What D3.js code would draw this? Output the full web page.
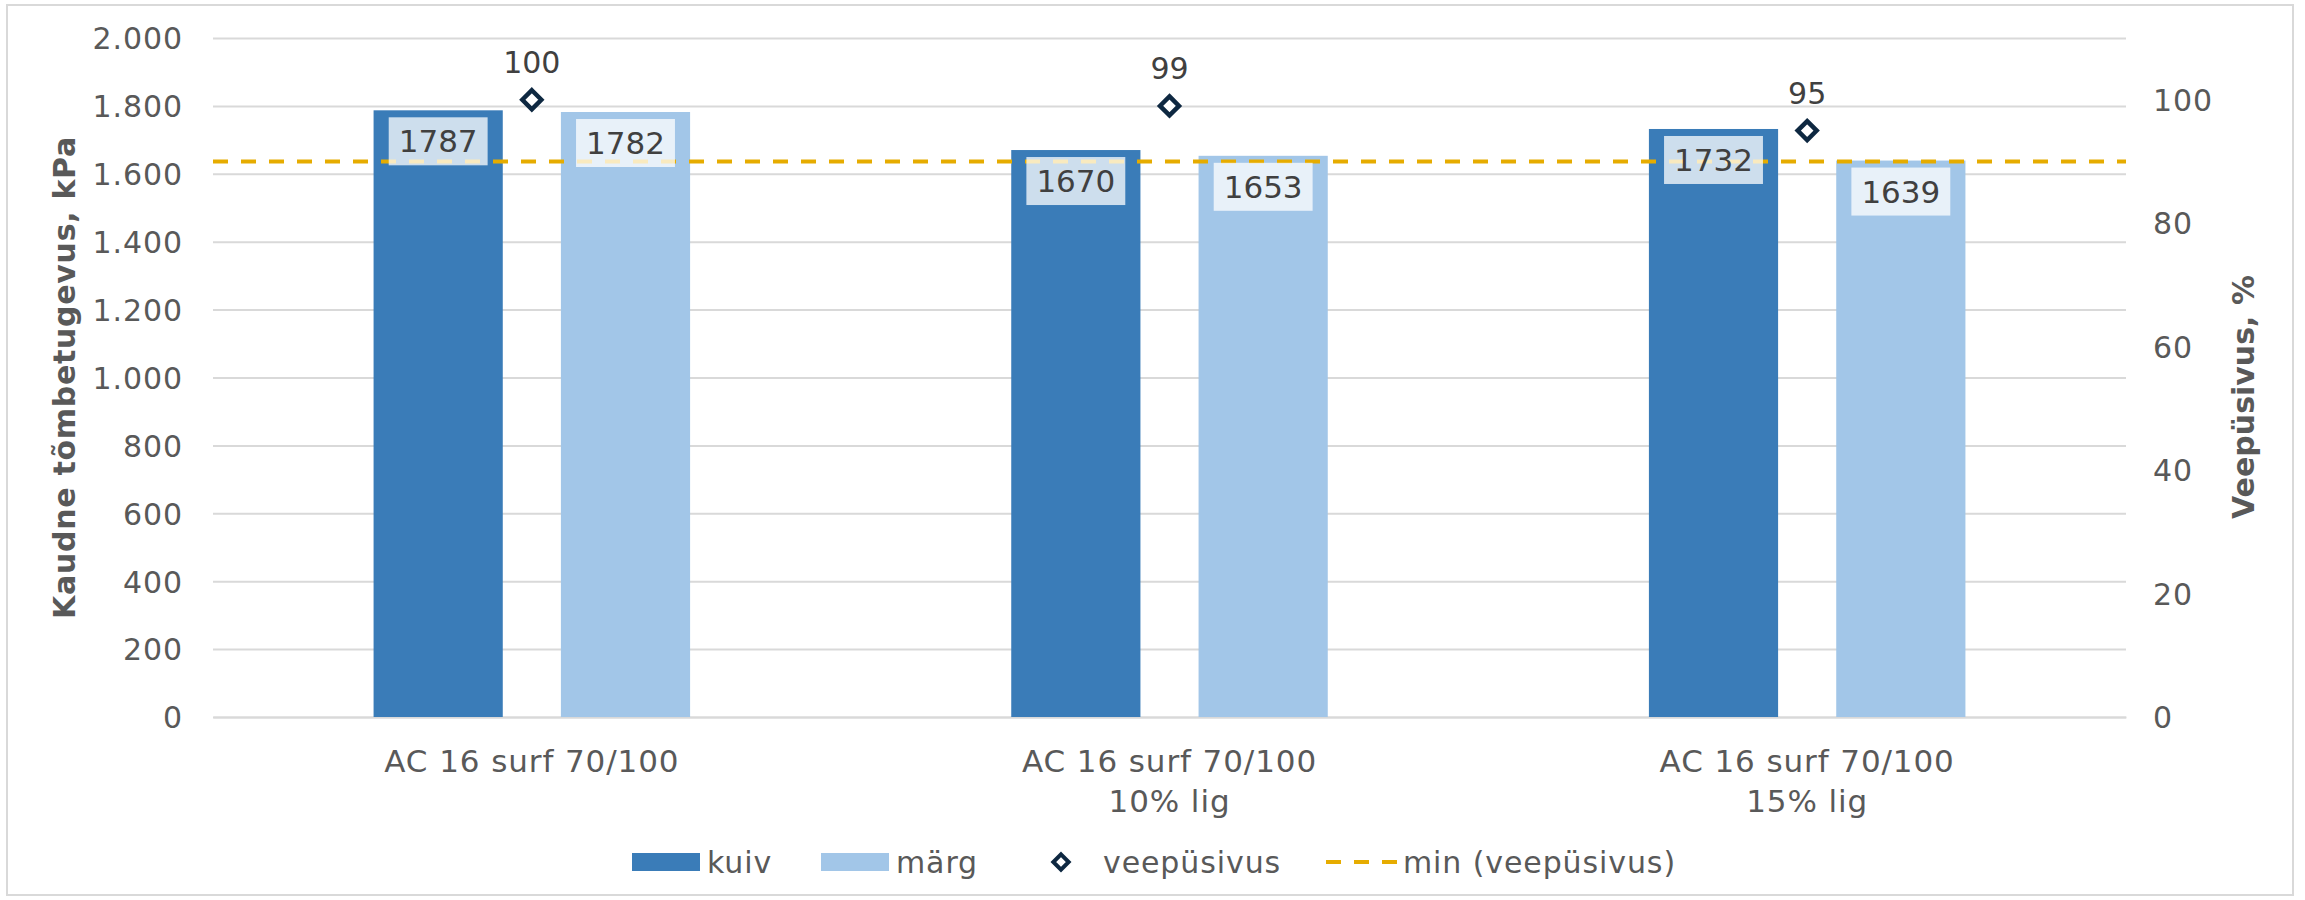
<!DOCTYPE html>
<html>
<head>
<meta charset="utf-8">
<script src="https://cdn.jsdelivr.net/npm/d3@7"></script>
<style>
  html, body { margin: 0; padding: 0; background: #fff; }
  svg { display: block; }
  text { font-family: Verdana, "DejaVu Sans", sans-serif; }
  .reg { letter-spacing: 0.9px; }
</style>
</head>
<body>
<svg id="chart" width="2305" height="900"></svg>
<script>
// ---- data ----
const categories = ["AC 16 surf 70/100", "AC 16 surf 70/100\n10% lig", "AC 16 surf 70/100\n15% lig"];
const series = ["kuiv", "märg"];
const kuiv = [1787, 1670, 1732];
const marg = [1782, 1653, 1639];
const veepusivus = [100, 99, 95];
const minVeepusivus = 90;
const leftTicks = [0, 200, 400, 600, 800, 1000, 1200, 1400, 1600, 1800, 2000];
const rightTicks = [0, 20, 40, 60, 80, 100];
const legendLabels = ["kuiv", "märg", "veepüsivus", "min (veepüsivus)"];

// ---- styles ----
const colKuiv = "#3a7cb8";
const colMarg = "#a2c6e8";
const colDiamond = "#0e2841";
const colMin = "#e6ac00";
const colText = "#595959";
const colGrid = "#d9d9d9";

const svg = d3.select("#chart");
const plot = { left: 213, right: 2126, top: 38, bottom: 717 };

// border
svg.append("rect").attr("x", 7).attr("y", 5).attr("width", 2286).attr("height", 890)
  .attr("fill", "#fff").attr("stroke", colGrid).attr("stroke-width", 2);

const x = d3.scaleBand().domain(categories).range([plot.left, plot.right]).padding(0);
const yL = d3.scaleLinear().domain([0, 2000]).range([plot.bottom, plot.top]);
const yR = d3.scaleLinear().domain([0, 110]).range([plot.bottom, plot.top]);

const loc = d3.formatLocale({ decimal: ",", thousands: ".", grouping: [3], currency: ["", ""] });
const fmtL = loc.format(",d");

// gridlines + left axis
const gL = svg.append("g").attr("transform", `translate(${plot.left},0)`)
  .call(d3.axisLeft(yL).tickValues(leftTicks).tickFormat(fmtL)
    .tickSize(-(plot.right - plot.left)).tickPadding(30));
gL.select(".domain").remove();
gL.selectAll(".tick line").attr("stroke", colGrid).attr("stroke-width", 2);
gL.selectAll(".tick text").attr("class", "reg").attr("fill", colText).attr("font-size", 30).attr("dy", "0.36em");

// right axis
const gR = svg.append("g").attr("transform", `translate(${plot.right},0)`)
  .call(d3.axisRight(yR).tickValues(rightTicks).tickSize(0).tickPadding(27));
gR.select(".domain").remove();
gR.selectAll(".tick text").attr("class", "reg").attr("fill", colText).attr("font-size", 30).attr("dy", "0.36em");

// bottom axis (category labels)
const gB = svg.append("g").attr("transform", `translate(0,${plot.bottom})`)
  .call(d3.axisBottom(x).tickSize(0).tickPadding(0).tickFormat(""));
gB.select(".domain").attr("stroke", colGrid).attr("stroke-width", 2);
gB.selectAll(".tick").each(function(d) {
  const t = d3.select(this).append("text").attr("class", "reg").attr("fill", colText).attr("font-size", 31)
    .attr("text-anchor", "middle").attr("y", 55);
  d.split("\n").forEach((line, i) => {
    t.append("tspan").attr("x", 0).attr("dy", i === 0 ? 0 : 40).text(line);
  });
});

// bars
const bw = x.bandwidth() * 0.2026;
const gap = bw * 0.45;
const offsets = [-(bw / 2 + gap / 2), (bw / 2 + gap / 2)];
const seriesData = [kuiv, marg];
const seriesCol = [colKuiv, colMarg];
const barData = [];
categories.forEach((c, i) => {
  seriesData.forEach((arr, s) => {
    barData.push({ cat: c, s, v: arr[i], cx: x(c) + x.bandwidth() / 2 + offsets[s] });
  });
});
svg.append("g").selectAll("rect").data(barData).join("rect")
  .attr("x", d => d.cx - bw / 2).attr("width", bw)
  .attr("y", d => yL(d.v)).attr("height", d => yL(0) - yL(d.v))
  .attr("fill", d => seriesCol[d.s]);

// min line
svg.append("line").attr("x1", plot.left).attr("x2", plot.right)
  .attr("y1", yR(minVeepusivus)).attr("y2", yR(minVeepusivus))
  .attr("stroke", colMin).attr("stroke-width", 4).attr("stroke-dasharray", "15,13");

// bar labels
const lg = svg.append("g");
barData.forEach(d => {
  const g = lg.append("g");
  const top = yL(d.v) + 7;
  const t = g.append("text").attr("x", d.cx).attr("y", top + 24).attr("dy", "0.36em")
    .attr("text-anchor", "middle").attr("font-size", 31).attr("fill", "#404040").text(d.v);
  const bb = t.node().getBBox();
  g.insert("rect", "text").attr("x", d.cx - bb.width / 2 - 10).attr("y", top)
    .attr("width", bb.width + 20).attr("height", 48)
    .attr("fill", "#fff").attr("fill-opacity", 0.75);
});

// diamonds
const diamond = d3.symbol().type(d3.symbolDiamond2).size(230);
categories.forEach((c, i) => {
  const cx = x(c) + x.bandwidth() / 2, cy = yR(veepusivus[i]);
  svg.append("path").attr("d", diamond).attr("transform", `translate(${cx},${cy})`)
    .attr("fill", "#fff").attr("stroke", colDiamond).attr("stroke-width", 4.5)
    .attr("stroke-linejoin", "miter");
  svg.append("text").attr("x", cx).attr("y", cy - 27).attr("text-anchor", "middle")
    .attr("font-size", 30).attr("fill", "#404040").text(veepusivus[i]);
});

// axis titles
svg.append("text").attr("transform", `translate(64,${(plot.top + plot.bottom) / 2}) rotate(-90)`)
  .attr("text-anchor", "middle").attr("dy", "0.36em").attr("font-size", 30).attr("font-weight", "bold")
  .attr("letter-spacing", "0.7px")
  .attr("fill", colText).text("Kaudne tõmbetugevus, kPa");
svg.append("text").attr("transform", `translate(2243,397) rotate(-90)`)
  .attr("text-anchor", "middle").attr("dy", "0.36em").attr("font-size", 30).attr("font-weight", "bold")
  .attr("fill", colText).text("Veepüsivus, %");

// legend
const ly = 862;
const leg = svg.append("g");
leg.append("rect").attr("x", 632).attr("y", ly - 9).attr("width", 68).attr("height", 18).attr("fill", colKuiv);
leg.append("text").attr("class", "reg").attr("x", 707).attr("y", ly).attr("dy", "0.36em").attr("font-size", 30).attr("fill", colText).text(legendLabels[0]);
leg.append("rect").attr("x", 821).attr("y", ly - 9).attr("width", 68).attr("height", 18).attr("fill", colMarg);
leg.append("text").attr("class", "reg").attr("x", 896).attr("y", ly).attr("dy", "0.36em").attr("font-size", 30).attr("fill", colText).text(legendLabels[1]);
leg.append("path").attr("d", d3.symbol().type(d3.symbolDiamond2).size(150))
  .attr("transform", `translate(1061,${ly})`).attr("fill", "#fff").attr("stroke", colDiamond).attr("stroke-width", 4);
leg.append("text").attr("class", "reg").attr("x", 1103).attr("y", ly).attr("dy", "0.36em").attr("font-size", 30).attr("fill", colText).text(legendLabels[2]);
leg.append("line").attr("x1", 1326).attr("x2", 1398).attr("y1", ly).attr("y2", ly)
  .attr("stroke", colMin).attr("stroke-width", 4).attr("stroke-dasharray", "15,13");
leg.append("text").attr("class", "reg").attr("x", 1403).attr("y", ly).attr("dy", "0.36em").attr("font-size", 30).attr("fill", colText).text(legendLabels[3]);
</script>
</body>
</html>
